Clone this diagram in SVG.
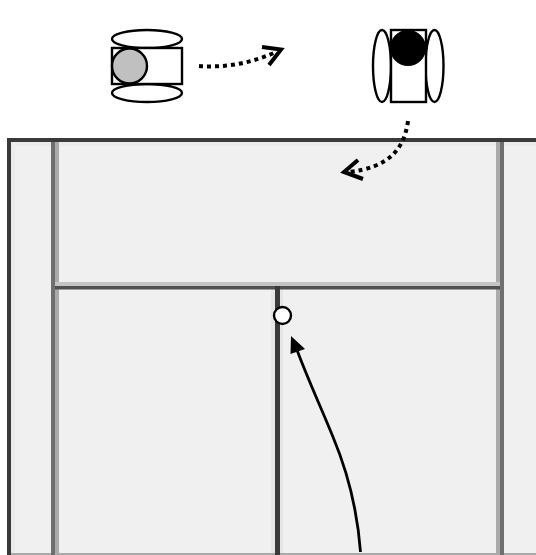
<svg xmlns="http://www.w3.org/2000/svg" width="536" height="555" viewBox="0 0 536 555">
<style>
.r{fill:#fff;stroke:#000;stroke-width:2.4}
.dot{fill:none;stroke:#000;stroke-width:4;stroke-dasharray:4 4}
.head{fill:none;stroke:#000;stroke-width:4}
</style>
<rect width="536" height="555" fill="#fff"/>
<g id="court">
<rect x="7" y="138" width="529" height="417" fill="#f0f0f0"/>
<rect x="11" y="142" width="4" height="411" fill="#ebebeb"/>
<rect x="11" y="142" width="525" height="4" fill="#ebebeb"/>
<rect x="271" y="286" width="12" height="267" fill="#e6e6e6"/>
<rect x="7" y="553" width="529" height="2" fill="#aaa"/>
<rect x="51" y="138" width="4" height="417" fill="#6f6f6f"/>
<rect x="55" y="138" width="4" height="417" fill="#aaa"/>
<rect x="496" y="138" width="4" height="417" fill="#aaa"/>
<rect x="500" y="138" width="4" height="417" fill="#6f6f6f"/>
<rect x="55" y="282" width="445" height="4" fill="#c4c4c4"/>
<rect x="55" y="286" width="445" height="3.500" fill="#505050"/>
<rect x="275" y="286" width="5" height="269" fill="#3a3a3a"/>
<rect x="7" y="138" width="4" height="417" fill="#3a3a3a"/>
<rect x="7" y="138" width="529" height="4" fill="#3a3a3a"/>
</g>
<g id="robot-left">
<ellipse class="r" cx="147" cy="39" rx="35" ry="9"/>
<ellipse class="r" cx="147" cy="93" rx="35" ry="9"/>
<rect class="r" x="112" y="48" width="70" height="36"/>
<circle cx="129.500" cy="66" r="17.500" fill="#c0c0c0" stroke="#000" stroke-width="2.400"/>
</g>
<g id="robot-right">
<ellipse class="r" cx="382" cy="66" rx="9" ry="36"/>
<ellipse class="r" cx="434.500" cy="66" rx="9" ry="36"/>
<rect class="r" x="391" y="30" width="35" height="72"/>
<circle cx="408" cy="48" r="18" fill="#000"/>
</g>
<g id="ball">
<circle cx="282.500" cy="315.500" r="8.500" fill="#fff" stroke="#000" stroke-width="2.400"/>
</g>
<g id="connectors">
<path class="dot" d="M199 66C225 68 252 63 276 52"/>
<path class="head" d="M262 47L281 49.500L269 65"/>
<path class="dot" d="M408 121C404 150 388 168 348 172"/>
<path class="head" d="M358 160L344 172L363 179"/>
<path d="M360.500 552C357 505 346 468 333 437C320 405 309 382 297 350" fill="none" stroke="#000" stroke-width="2.800"/>
<path d="M291 336L305 349L290.500 354Z" fill="#000"/>
</g>
</svg>
